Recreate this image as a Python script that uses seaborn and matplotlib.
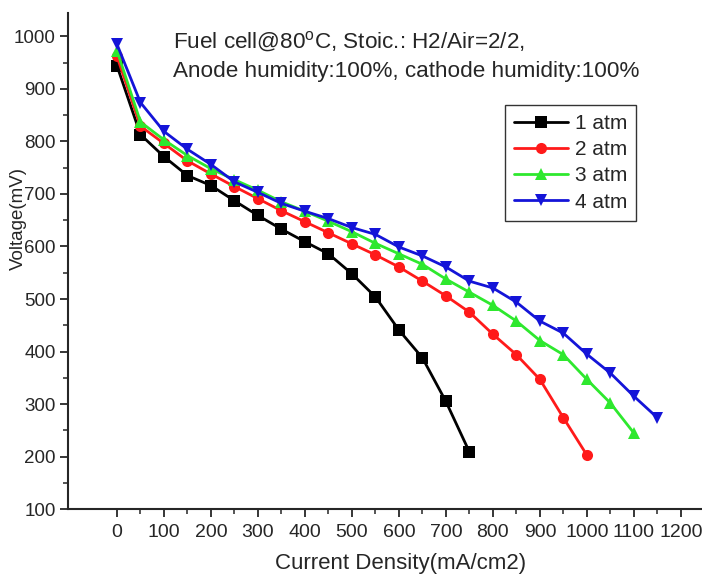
import numpy as np
import pandas as pd
import matplotlib
matplotlib.use("Agg")
import matplotlib.pyplot as plt
import seaborn as sns
from matplotlib.ticker import MultipleLocator, FixedLocator

sns.set_style("ticks")
plt.rcParams['font.family'] = ['Liberation Sans', 'DejaVu Sans']
plt.rcParams['mathtext.default'] = 'regular'

x_1atm = [0, 50, 100, 150, 200, 250, 300, 350, 400, 450, 500, 550, 600, 650, 700, 750]
v_1atm = [944, 813, 771, 735, 716, 687, 659, 633, 609, 586, 548, 504, 441, 388, 305, 209]

x_2atm = [0, 50, 100, 150, 200, 250, 300, 350, 400, 450, 500, 550, 600, 650, 700, 750,
          800, 850, 900, 950, 1000]
v_2atm = [962, 829, 796, 763, 738, 714, 691, 668, 647, 626, 605, 584, 561, 534, 506, 475,
          433, 394, 347, 274, 203]

x_3atm = [0, 50, 100, 150, 200, 250, 300, 350, 400, 450, 500, 550, 600, 650, 700, 750,
          800, 850, 900, 950, 1000, 1050, 1100]
v_3atm = [973, 837, 803, 773, 748, 727, 707, 685, 667, 648, 628, 606, 586, 566, 538, 513,
          488, 458, 421, 394, 347, 302, 245]

x_4atm = [0, 50, 100, 150, 200, 250, 300, 350, 400, 450, 500, 550, 600, 650, 700, 750,
          800, 850, 900, 950, 1000, 1050, 1100, 1150]
v_4atm = [985, 874, 819, 785, 756, 723, 703, 682, 667, 653, 636, 623, 599, 582, 561, 534,
          521, 494, 458, 435, 395, 359, 315, 274]

labels = ["1 atm", "2 atm", "3 atm", "4 atm"]
colors = ["#000000", "#ff1a1a", "#2ee82e", "#1414d8"]
markers = ["s", "o", "^", "v"]
x_ticks = [0, 100, 200, 300, 400, 500, 600, 700, 800, 900, 1000, 1100, 1200]

frames = []
for lab, xs, vs in zip(labels, [x_1atm, x_2atm, x_3atm, x_4atm],
                       [v_1atm, v_2atm, v_3atm, v_4atm]):
    frames.append(pd.DataFrame({"Current": xs, "Voltage": vs, "Pressure": lab}))
df = pd.concat(frames, ignore_index=True)

fig = plt.figure(figsize=(7.02, 5.76), dpi=100)
ax = fig.add_axes([0.097, 0.116, 0.903, 0.862])

sns.lineplot(data=df, x="Current", y="Voltage", hue="Pressure", style="Pressure",
             hue_order=labels, style_order=labels,
             palette=dict(zip(labels, colors)),
             markers=dict(zip(labels, markers)), dashes=False,
             linewidth=2, markersize=8, markeredgewidth=0, ax=ax)

ax.set_xlim(-104, 1245)
ax.set_ylim(100, 1045)
ax.xaxis.set_major_locator(FixedLocator(x_ticks))
ax.xaxis.set_minor_locator(FixedLocator([t + 50 for t in x_ticks]))
ax.yaxis.set_major_locator(MultipleLocator(100))
ax.yaxis.set_minor_locator(MultipleLocator(50))
ax.tick_params(which='major', direction='out', length=6, width=1.3, labelsize=14, pad=3)
ax.tick_params(axis='y', which='major', labelsize=13.5)
ax.tick_params(axis='x', which='major', pad=5)
ax.tick_params(which='minor', direction='out', length=3.5, width=1.1)
for s in ['top', 'right']:
    ax.spines[s].set_visible(False)
for s in ['left', 'bottom']:
    ax.spines[s].set_linewidth(1.5)

ax.set_xlabel("Current Density(mA/cm2)", fontsize=16)
ax.xaxis.set_label_coords(0.525, -0.088)
ax.xaxis.label.set_va('top')
ax.set_ylabel("Voltage(mV)", fontsize=13.5)
ax.yaxis.set_label_coords(-0.078, 0.585)
ax.yaxis.label.set_va('center')

ax.text(0.166, 0.966, "Fuel cell@80$^{o}$C, Stoic.: H2/Air=2/2,\nAnode humidity:100%, cathode humidity:100%",
        transform=ax.transAxes, ha='left', va='top', fontsize=16.2, linespacing=1.4)

leg = ax.legend(loc='upper left', bbox_to_anchor=(0.689, 0.815), fontsize=15,
                frameon=True, fancybox=False, edgecolor='#333333', framealpha=1,
                handlelength=2.6, handletextpad=0.3, borderpad=0.45, labelspacing=0.35,
                borderaxespad=0, title=None)
leg.get_frame().set_linewidth(1.0)

fig.savefig("out.png", dpi=100)
